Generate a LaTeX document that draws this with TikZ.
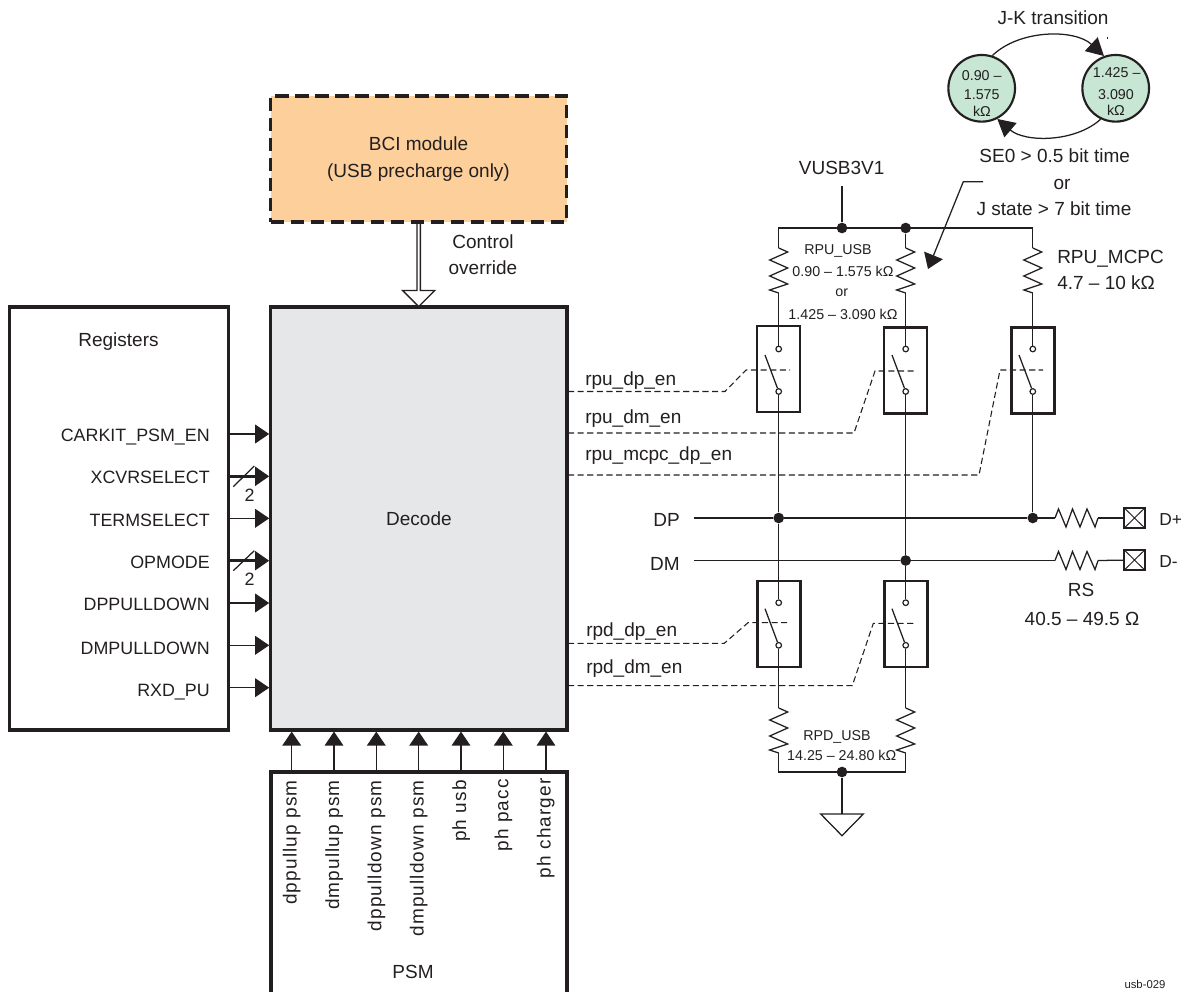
\documentclass[tikz,border=0pt]{standalone}
\usepackage{fontspec}
\setmainfont{Liberation Sans}
\newfontfamily\pinfont[LetterSpace=6]{Liberation Sans}
\usepackage{xcolor}
\definecolor{inkblack}{RGB}{35,31,32}
\definecolor{decodefill}{RGB}{230,231,232}
\definecolor{bcifill}{RGB}{253,208,155}
\definecolor{statefill}{RGB}{200,230,212}
\usepackage{tikz}
\usetikzlibrary{arrows.meta,shapes.arrows}

\begin{document}
\begin{tikzpicture}[x=0.75pt,y=-0.75pt,
block/.style={draw=inkblack,line width=2.4pt,inner sep=0pt,font=\fontsize{14.25}{20.6}\selectfont,text=inkblack,align=center},
swbox/.style={draw=inkblack,line width=1.7pt,inner sep=0pt,minimum width=32.25pt,minimum height=64.5pt},
state/.style={circle,draw=inkblack,line width=1.6pt,fill=statefill,inner sep=0pt,minimum size=50pt},
contact/.style={circle,draw=inkblack,line width=0.9pt,fill=white,inner sep=0pt,minimum size=4.2pt},
dot/.style={circle,fill=inkblack,inner sep=0pt,minimum size=8pt},
port/.style={draw=inkblack,line width=1.1pt,inner sep=0pt,minimum width=15.5pt,minimum height=15.2pt,
  path picture={\draw[inkblack,line width=0.7pt] (path picture bounding box.north west)--(path picture bounding box.south east)
    (path picture bounding box.north east)--(path picture bounding box.south west);}},
lab/.style={font=\fontsize{14.25}{17}\selectfont,text=inkblack,inner sep=0pt,anchor=base},
labl/.style={lab,anchor=base west},
labr/.style={font=\fontsize{13.4}{16}\selectfont,text=inkblack,inner sep=0pt,anchor=base east},
small/.style={font=\fontsize{10.7}{13}\selectfont,text=inkblack,inner sep=0pt,anchor=base},
pinlab/.style={font=\fontsize{14.25}{17}\pinfont,text=inkblack,inner sep=0pt,rotate=90,anchor=base east},
wire/.style={draw=inkblack,line width=0.95pt},
sig/.style={wire,-{Triangle[length=10.5pt,width=14pt]}},
bus/.style={draw=inkblack,line width=2pt,-{Triangle[length=10.5pt,width=14pt]}},
hop/.style={wire,-{Triangle[length=13pt,width=14pt]}},
ctl/.style={draw=inkblack,line width=0.8pt,dash pattern=on 4.6pt off 2.6pt},
vres/.pic={\draw[wire,line join=miter] (0,0)--(9,4)--(-9,12)--(9,20)--(-9,28)--(9,36)--(-9,42)--(0,45);},
hres/.pic={\draw[wire,line join=miter] (0,0)--(3.5,-9)--(11,9)--(17.5,-9)--(25,9)--(32,-9)--(40,9)--(43,0);}]
\clip (0,0) rectangle (1183,992);
\node[block,minimum width=222pt,minimum height=94.5pt,fill=bcifill,dash pattern=on 10pt off 5pt] (bci) at (418.5,159) {BCI module\\(USB precharge only)};
\node[block,minimum width=222.15pt,minimum height=317.25pt,fill=decodefill] (decode) at (418.9,518.5) {Decode};
\node[block,minimum width=164.4pt,minimum height=317.25pt] (regs) at (119.1,518.5) {};
\node[block,minimum width=222pt,minimum height=171pt] (psm) at (419,886) {};
\node[draw=inkblack,line width=1pt,fill=white,single arrow,shape border rotate=270,inner sep=0pt,minimum height=62.5pt,minimum width=24pt,single arrow head extend=4.2pt] (ovr) at (418.7,264) {};
\node[lab] (ctltxt) at (483,248) {Control};
\node[lab] (ovrtxt) at (483,274) {override};
\node[lab] (regtxt) at (118.5,346) {Registers};
\node[lab] (psmtxt) at (413,978) {PSM};

\node[labr] (lcar) at (210,441) {CARKIT\_PSM\_EN};
\node[labr] (lxcv) at (210,483.3) {XCVRSELECT};
\node[labr] (lter) at (210,526) {TERMSELECT};
\node[labr] (lopm) at (210,568.3) {OPMODE};
\node[labr] (ldpp) at (210,610.7) {DPPULLDOWN};
\node[labr] (ldmp) at (210,654) {DMPULLDOWN};
\node[labr] (lrxd) at (210,696) {RXD\_PU};
\coordinate (rcar) at (228,434);
\coordinate (rxcv) at (228,476.3);
\coordinate (rter) at (228,518.3);
\coordinate (ropm) at (228,560.7);
\coordinate (rdpp) at (228,603);
\coordinate (rdmp) at (228,645.3);
\coordinate (rrxd) at (228,687.7);
\draw[sig] (rcar)--(rcar -| decode.west);
\draw[bus] (rxcv)--(rxcv -| decode.west);
\draw[sig] (rter)--(rter -| decode.west);
\draw[bus] (ropm)--(ropm -| decode.west);
\draw[sig] (rdpp)--(rdpp -| decode.west);
\draw[sig] (rdmp)--(rdmp -| decode.west);
\draw[sig] (rrxd)--(rrxd -| decode.west);
\coordinate (xa) at (233.3,486.7);
\coordinate (xb) at (254.3,466);
\coordinate (oa) at (233.3,570.7);
\coordinate (ob) at (254.3,550.7);
\draw[wire] (xa)--(xb);
\draw[wire] (oa)--(ob);
\node[labr,anchor=base] (xtwo) at (249.7,501) {2};
\node[labr,anchor=base] (otwo) at (249.7,585) {2};

\coordinate (pa) at (291.7,772);
\coordinate (pb) at (334,772);
\coordinate (pc) at (376.3,772);
\coordinate (pd) at (418.7,772);
\coordinate (pe) at (461,772);
\coordinate (pf) at (503.3,772);
\coordinate (pg) at (546,772);
\draw[sig] (pa)--(pa |- decode.south);
\draw[sig] (pb)--(pb |- decode.south);
\draw[sig] (pc)--(pc |- decode.south);
\draw[sig] (pd)--(pd |- decode.south);
\draw[sig] (pe)--(pe |- decode.south);
\draw[sig] (pf)--(pf |- decode.south);
\draw[sig] (pg)--(pg |- decode.south);
\node[pinlab] (ta) at (296.7,780) {dppullup psm};
\node[pinlab] (tb) at (339,780) {dmpullup psm};
\node[pinlab] (tc) at (381.3,780) {dppulldown psm};
\node[pinlab] (td) at (423.6,780) {dmpulldown psm};
\node[pinlab] (te) at (466,780) {ph usb};
\node[pinlab] (tf) at (508.3,779) {ph pacc};
\node[pinlab] (tg) at (550.6,778) {ph charger};

\node[swbox] (swa) at (778.5,369) {};
\node[swbox] (swb) at (905.7,370.5) {};
\node[swbox] (swc) at (1033,370.5) {};
\node[swbox] (swd) at (779,624) {};
\node[swbox] (swe) at (906,624) {};

\coordinate (raila) at (778.7,228);
\coordinate (railc) at (1032.8,228);
\coordinate (ra1) at (778.7,248);
\coordinate (ra2) at (778.7,293);
\coordinate (rb1) at (905.7,248);
\coordinate (rb2) at (905.7,293);
\coordinate (rc1) at (1032.8,248);
\coordinate (rc2) at (1032.8,293);
\coordinate (rd1) at (778.7,708);
\coordinate (rd2) at (778.7,753);
\coordinate (re1) at (905.7,708);
\coordinate (re2) at (905.7,753);
\coordinate (gla) at (778.7,772);
\coordinate (glb) at (905.7,772);
\coordinate (vtop) at (842,186);
\node[dot] (jv) at (842,228) {};
\node[dot] (jb) at (905.7,228) {};
\node[dot] (jg) at (842,772) {};
\node[dot] (jdpa) at (778.7,518) {};
\node[dot] (jdpc) at (1032.8,518) {};
\node[dot] (jdmb) at (905.7,560.5) {};
\draw[wire] (vtop)--(jv);
\draw[wire] (ra1)--(raila)--(railc)--(rc1);
\draw[wire] (jb)--(rb1);
\pic at (ra1) {vres};
\pic at (rb1) {vres};
\pic at (rc1) {vres};
\pic at (rd1) {vres};
\pic at (re1) {vres};
\draw[wire] (rd2)--(gla)--(glb)--(re2);
\coordinate (gndl) at (820.7,814);
\coordinate (gndr) at (863.3,814);
\coordinate (gndt) at (842,835.7);
\coordinate (gndm) at (842,814);
\draw[wire] (jg)--(gndm);
\draw[wire] (gndl)--(gndr)--(gndt)--cycle;

\node[contact] (cua) at (778.7,349) {};
\node[contact] (cub) at (905.7,349) {};
\node[contact] (cuc) at (1032.8,349) {};
\node[contact] (dua) at (778.7,391.5) {};
\node[contact] (dub) at (905.7,391.5) {};
\node[contact] (duc) at (1032.8,391.5) {};
\node[contact] (cda) at (778.7,602.7) {};
\node[contact] (cdb) at (905.7,602.7) {};
\node[contact] (dda) at (778.7,645.3) {};
\node[contact] (ddb) at (905.7,645.3) {};
\draw[wire] (ra2)--(cua);
\draw[wire] (rb2)--(cub);
\draw[wire] (rc2)--(cuc);
\draw[wire] (dua)--(jdpa);
\draw[wire] (jdpa)--(cda);
\draw[wire] (dub)--(jdmb);
\draw[wire] (jdmb)--(cdb);
\draw[wire] (duc)--(jdpc);
\draw[wire] (dda)--(rd1);
\draw[wire] (ddb)--(re1);
\coordinate (bla) at (765,355);
\coordinate (blb) at (892,355);
\coordinate (blc) at (1019,355);
\coordinate (bld) at (765,608.7);
\coordinate (ble) at (892,608.7);
\draw[wire] (bla)--(dua);
\draw[wire] (blb)--(dub);
\draw[wire] (blc)--(duc);
\draw[wire] (bld)--(dda);
\draw[wire] (ble)--(ddb);

\coordinate (ena) at (568,391.5);
\coordinate (ena1) at (725,391.5);
\coordinate (ena2) at (746,370);
\coordinate (ena3) at (790,370);
\coordinate (enb) at (568,433);
\coordinate (enb1) at (854,433);
\coordinate (enb2) at (875,371);
\coordinate (enb3) at (916,371);
\coordinate (enc) at (568,475);
\coordinate (enc1) at (979,475);
\coordinate (enc2) at (1000,370);
\coordinate (enc3) at (1043,370);
\coordinate (end) at (568,643.3);
\coordinate (end1) at (724.3,643.3);
\coordinate (end2) at (748,622.7);
\coordinate (end3) at (790,622.7);
\coordinate (ene) at (568,685.7);
\coordinate (ene1) at (852.3,685.7);
\coordinate (ene2) at (873.3,623.3);
\coordinate (ene3) at (916,623.3);
\draw[ctl] (ena)--(ena1)--(ena2)--(ena3);
\draw[ctl] (enb)--(enb1)--(enb2)--(enb3);
\draw[ctl] (enc)--(enc1)--(enc2)--(enc3);
\draw[ctl] (end)--(end1)--(end2)--(end3);
\draw[ctl] (ene)--(ene1)--(ene2)--(ene3);
\node[labl] (tena) at (585,385) {rpu\_dp\_en};
\node[labl] (tenb) at (585,423) {rpu\_dm\_en};
\node[labl] (tenc) at (585,460) {rpu\_mcpc\_dp\_en};
\node[labl] (tend) at (586,636) {rpd\_dp\_en};
\node[labl] (tene) at (586,673.3) {rpd\_dm\_en};

\coordinate (dpin) at (694,518);
\coordinate (dmin) at (694,560.5);
\coordinate (rsa1) at (1055,518);
\coordinate (rsa2) at (1098,518);
\coordinate (rsb1) at (1055,560.5);
\coordinate (rsb2) at (1098,560.5);
\node[port] (dplus) at (1134.5,518) {};
\node[port] (dminus) at (1134.5,560) {};
\draw[wire] (dpin)--(jdpa);
\draw[wire] (jdpa)--(jdpc);
\draw[wire] (jdpc)--(rsa1);
\draw[wire] (dmin)--(jdmb);
\draw[wire] (jdmb)--(rsb1);
\pic at (rsa1) {hres};
\pic at (rsb1) {hres};
\draw[wire] (rsa2)--(dplus);
\draw[wire] (rsb2)--(dminus);
\node[lab,anchor=base east] (tdp) at (680,526.7) {DP};
\node[lab,anchor=base east] (tdm) at (680,570) {DM};
\node[labl,font=\fontsize{13}{16}\selectfont] (tdplus) at (1159,525.7) {D+};
\node[labl,font=\fontsize{13}{16}\selectfont] (tdminus) at (1159,567.7) {D-};
\node[lab] (trs) at (1081,596.7) {RS};
\node[lab] (trsv) at (1082,625) {40.5 – 49.5 Ω};

\node[lab] (tvusb) at (841.7,174) {VUSB3V1};
\node[small] (trpu) at (838,254.3) {RPU\_USB};
\node[small] (trpua) at (843,276) {0.90 – 1.575 kΩ};
\node[small] (trpuo) at (841.7,296.7) {or};
\node[small] (trpub) at (843,319) {1.425 – 3.090 kΩ};
\node[labl] (tmcpc) at (1057,263.3) {RPU\_MCPC};
\node[labl] (tmcpv) at (1057,289.3) {4.7 – 10 kΩ};
\node[small] (trpd) at (837,740) {RPD\_USB};
\node[small] (trpdv) at (841.7,760) {14.25 – 24.80 kΩ};

\node[state] (cleft) at (981.7,88.3) {};
\node[state] (cright) at (1115.7,88.3) {};
\draw[hop] (cleft.72) .. controls (1020,29) and (1075,29) .. (cright.110);
\draw[hop] (cright.244) .. controls (1075,142.6) and (1025,142.6) .. (cleft.297);
\coordinate (ticka) at (1107,37);
\coordinate (tickb) at (1107,39);
\draw[draw=inkblack,line width=0.4pt] (ticka)--(tickb);
\node[small] (la) at (981.7,80) {0.90 –};
\node[small] (lb) at (981.7,99.3) {1.575};
\node[small] (lc) at (982,116) {kΩ};
\node[small] (ra) at (1116.7,77.3) {1.425 –};
\node[small] (rb) at (1116,99.3) {3.090};
\node[small] (rc) at (1116,115) {kΩ};
\node[lab] (tjk) at (1053,25) {J-K transition};
\node[lab] (tse) at (1054.7,162) {SE0 > 0.5 bit time};
\node[lab] (tor) at (1062,189) {or};
\node[lab] (tjs) at (1054,215) {J state > 7 bit time};
\coordinate (calla) at (983,181.7);
\coordinate (callb) at (963.3,181.7);
\coordinate (callc) at (928,269);
\draw[wire,-{Triangle[length=11pt,width=15pt]}] (calla)--(callb)--(callc);

\node[font=\fontsize{8.5}{10}\selectfont,text=inkblack,inner sep=0pt,anchor=base] (tag) at (1145,988) {usb-029};
\end{tikzpicture}
\end{document}
